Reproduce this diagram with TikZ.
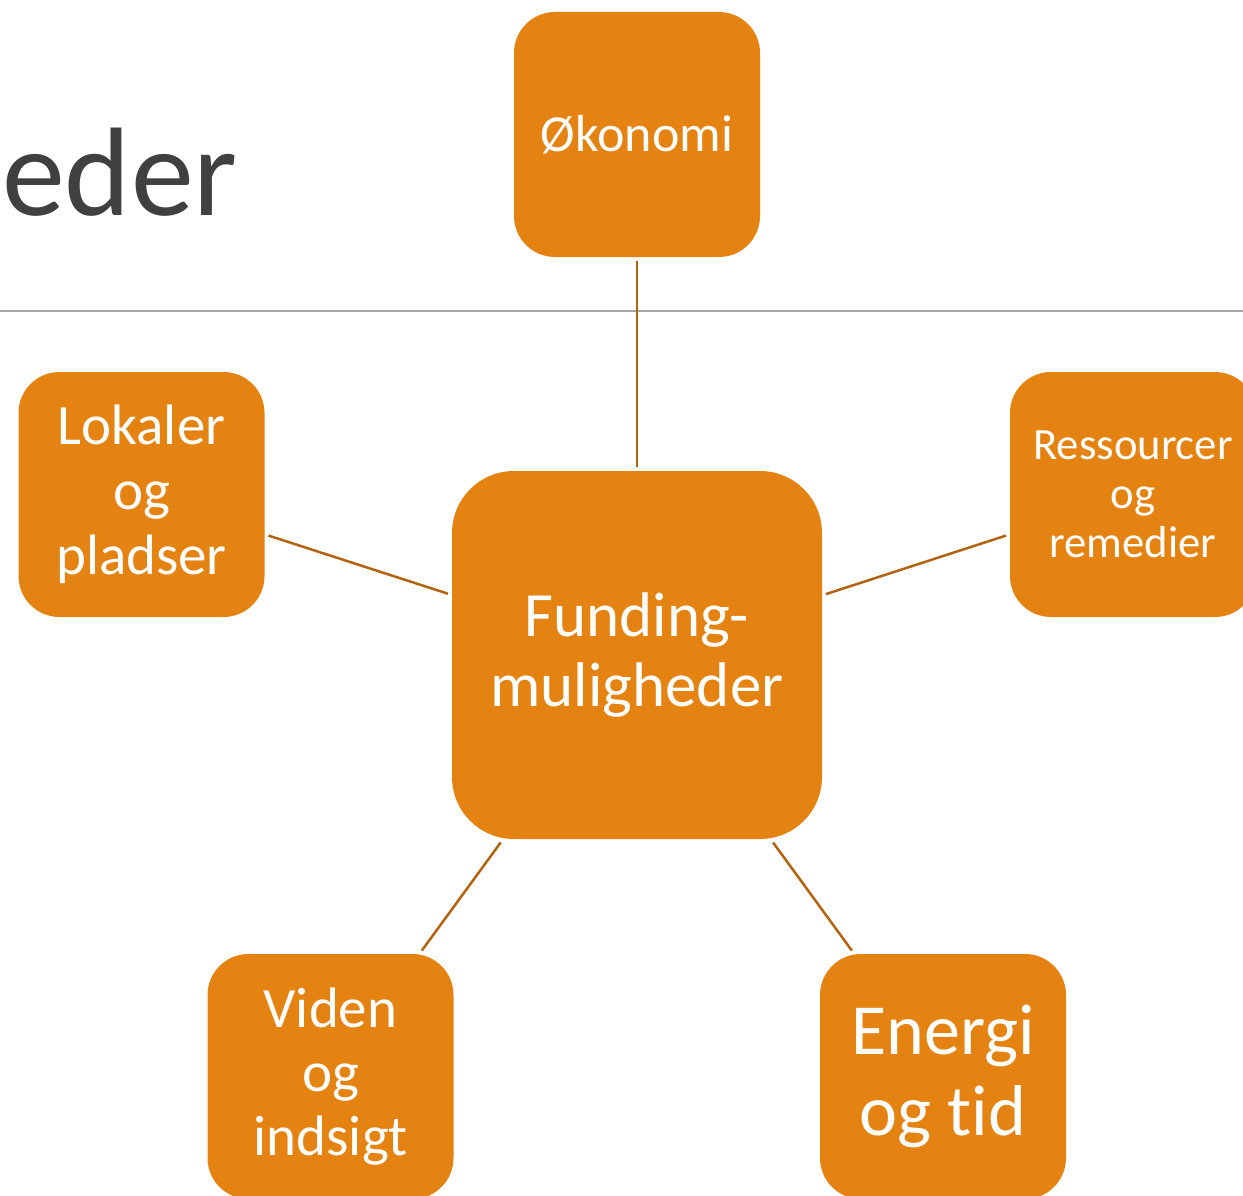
\documentclass[tikz,border=0pt]{standalone}
\usepackage{fontspec}
\setmainfont[RawFeature={-liga;-dlig;-clig}]{Carlito}
\definecolor{boxorange}{HTML}{E48312}
\definecolor{linkbrown}{HTML}{B3630F}
\definecolor{titlegray}{HTML}{404040}
\definecolor{rulegray}{HTML}{A6A6A6}
\begin{document}
\begin{tikzpicture}[x=1pt,y=-1pt,
  smallbox/.style={fill=boxorange, rounded corners=41pt, minimum width=246pt, minimum height=245pt, inner sep=0pt, text=white, align=center},
  bigbox/.style={fill=boxorange, rounded corners=62pt, minimum width=370pt, minimum height=368pt, inner sep=0pt, text=white, align=center},
  link/.style={draw=linkbrown, line width=2.5pt, shorten <=4pt, shorten >=4pt}]
\useasboundingbox (0,0) rectangle (1243,1196);
\clip (0,0) rectangle (1243,1196);
\node[anchor=base west, inner sep=0pt, text=titlegray, font=\fontsize{126}{140}\selectfont] (title) at (2,215) {eder};
\draw[rulegray, line width=1.5pt] (0,311) -- (1243,311);
\node[bigbox, font=\fontsize{63}{70}\selectfont] (center) at (637,655) {Funding-\\muligheder};
\node[smallbox, font=\fontsize{52}{60}\selectfont] (okonomi) at (637,134.5) {Økonomi};
\node[smallbox, font=\fontsize{57}{65}\selectfont] (lokaler) at (141.5,494.5) {Lokaler\\og\\pladser};
\node[smallbox, font=\fontsize{44.7}{49}\selectfont] (ressourcer) at (1133,494.5) {Ressourcer\\og\\remedier};
\node[smallbox, font=\fontsize{57}{64}\selectfont] (viden) at (330.5,1076.5) {Viden\\og\\indsigt};
\node[smallbox, font=\fontsize{72}{81}\selectfont] (energi) at (943,1076.5) {Energi\\og tid};
\draw[link] (center) -- (okonomi);
\draw[link] (center) -- (lokaler);
\draw[link] (center) -- (ressourcer);
\draw[link] (center) -- (viden);
\draw[link] (center) -- (energi);
\end{tikzpicture}
\end{document}
